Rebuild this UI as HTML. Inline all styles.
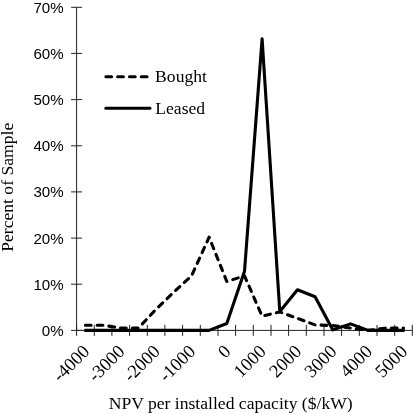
<!DOCTYPE html>
<html><head><meta charset="utf-8"><title>NPV per installed capacity</title>
<style>
html,body{margin:0;padding:0;background:#fff;}
body{width:414px;height:414px;overflow:hidden;}
svg{display:block;}
.sans{font-family:"Liberation Sans",sans-serif;font-size:15.1px;fill:#000;}
.serif{font-family:"Liberation Serif",serif;fill:#000;}
</style></head><body>
<svg width="414" height="414" viewBox="0 0 414 414">
<rect width="414" height="414" fill="#fff"/>

<g stroke="#222" stroke-width="1" fill="none">
<line x1="76.6" y1="7.3" x2="76.6" y2="330.4"/>
<line x1="76.6" y1="330.4" x2="412.3" y2="330.4"/>
<line x1="71.1" y1="330.4" x2="82.1" y2="330.4"/>
<line x1="71.1" y1="284.2" x2="82.1" y2="284.2"/>
<line x1="71.1" y1="238.1" x2="82.1" y2="238.1"/>
<line x1="71.1" y1="191.9" x2="82.1" y2="191.9"/>
<line x1="71.1" y1="145.8" x2="82.1" y2="145.8"/>
<line x1="71.1" y1="99.6" x2="82.1" y2="99.6"/>
<line x1="71.1" y1="53.4" x2="82.1" y2="53.4"/>
<line x1="71.1" y1="7.3" x2="82.1" y2="7.3"/>
<line x1="76.6" y1="324.9" x2="76.6" y2="335.9"/>
<line x1="94.3" y1="324.9" x2="94.3" y2="335.9"/>
<line x1="111.9" y1="324.9" x2="111.9" y2="335.9"/>
<line x1="129.6" y1="324.9" x2="129.6" y2="335.9"/>
<line x1="147.3" y1="324.9" x2="147.3" y2="335.9"/>
<line x1="164.9" y1="324.9" x2="164.9" y2="335.9"/>
<line x1="182.6" y1="324.9" x2="182.6" y2="335.9"/>
<line x1="200.3" y1="324.9" x2="200.3" y2="335.9"/>
<line x1="218.0" y1="324.9" x2="218.0" y2="335.9"/>
<line x1="235.6" y1="324.9" x2="235.6" y2="335.9"/>
<line x1="253.3" y1="324.9" x2="253.3" y2="335.9"/>
<line x1="271.0" y1="324.9" x2="271.0" y2="335.9"/>
<line x1="288.6" y1="324.9" x2="288.6" y2="335.9"/>
<line x1="306.3" y1="324.9" x2="306.3" y2="335.9"/>
<line x1="324.0" y1="324.9" x2="324.0" y2="335.9"/>
<line x1="341.6" y1="324.9" x2="341.6" y2="335.9"/>
<line x1="359.3" y1="324.9" x2="359.3" y2="335.9"/>
<line x1="377.0" y1="324.9" x2="377.0" y2="335.9"/>
<line x1="394.7" y1="324.9" x2="394.7" y2="335.9"/>
<line x1="412.3" y1="324.9" x2="412.3" y2="335.9"/>
</g>
<text class="sans" x="63.6" y="335.8" text-anchor="end">0%</text>
<text class="sans" x="63.6" y="289.6" text-anchor="end">10%</text>
<text class="sans" x="63.6" y="243.5" text-anchor="end">20%</text>
<text class="sans" x="63.6" y="197.3" text-anchor="end">30%</text>
<text class="sans" x="63.6" y="151.2" text-anchor="end">40%</text>
<text class="sans" x="63.6" y="105.0" text-anchor="end">50%</text>
<text class="sans" x="63.6" y="58.8" text-anchor="end">60%</text>
<text class="sans" x="63.6" y="12.7" text-anchor="end">70%</text>
<text class="serif" font-size="18.4" text-anchor="end" transform="translate(90.4,352.5) rotate(-45)">-4000</text>
<text class="serif" font-size="18.4" text-anchor="end" transform="translate(125.8,352.5) rotate(-45)">-3000</text>
<text class="serif" font-size="18.4" text-anchor="end" transform="translate(161.1,352.5) rotate(-45)">-2000</text>
<text class="serif" font-size="18.4" text-anchor="end" transform="translate(196.5,352.5) rotate(-45)">-1000</text>
<text class="serif" font-size="18.4" text-anchor="end" transform="translate(231.8,352.5) rotate(-45)">0</text>
<text class="serif" font-size="18.4" text-anchor="end" transform="translate(267.1,352.5) rotate(-45)">1000</text>
<text class="serif" font-size="18.4" text-anchor="end" transform="translate(302.5,352.5) rotate(-45)">2000</text>
<text class="serif" font-size="18.4" text-anchor="end" transform="translate(337.8,352.5) rotate(-45)">3000</text>
<text class="serif" font-size="18.4" text-anchor="end" transform="translate(373.2,352.5) rotate(-45)">4000</text>
<text class="serif" font-size="18.4" text-anchor="end" transform="translate(408.5,352.5) rotate(-45)">5000</text>
<polyline points="85.4,325.2 103.1,325.2 120.8,328.1 138.4,328.1 156.1,309.2 173.8,292.1 191.5,275.9 209.1,237.2 226.8,281.5 244.5,275.9 262.1,316.1 279.8,311.9 297.5,318.4 315.1,324.9 332.8,325.6 350.5,328.1 368.2,330.4 385.8,328.1 403.5,328.1" fill="none" stroke="#000" stroke-width="3.1" stroke-dasharray="5.7 6.1" stroke-linejoin="round" stroke-linecap="round"/>
<polyline points="85.4,330.4 103.1,330.4 120.8,330.4 138.4,330.4 156.1,330.4 173.8,330.4 191.5,330.4 209.1,330.4 226.8,323.5 244.5,271.3 262.1,38.9 279.8,311.5 297.5,289.8 315.1,296.7 332.8,329.9 350.5,323.9 368.2,330.4 385.8,330.4 403.5,330.4" fill="none" stroke="#000" stroke-width="3.1" stroke-linejoin="round" stroke-linecap="round"/>
<line x1="105.9" y1="76.7" x2="149.9" y2="76.7" stroke="#000" stroke-width="3.1" stroke-dasharray="5.7 6.1" stroke-linecap="round"/>
<line x1="105.9" y1="108.3" x2="149.9" y2="108.3" stroke="#000" stroke-width="3.1" stroke-linecap="round"/>
<text class="serif" font-size="17.6" x="155.1" y="82.4">Bought</text>
<text class="serif" font-size="17.6" x="155.3" y="113.5">Leased</text>
<text class="serif" font-size="17.6" x="230.7" y="408.6" text-anchor="middle">NPV per installed capacity ($/kW)</text>
<text class="serif" font-size="17.6" text-anchor="middle" transform="translate(13.2,187.3) rotate(-90)">Percent of Sample</text>
</svg></body></html>
